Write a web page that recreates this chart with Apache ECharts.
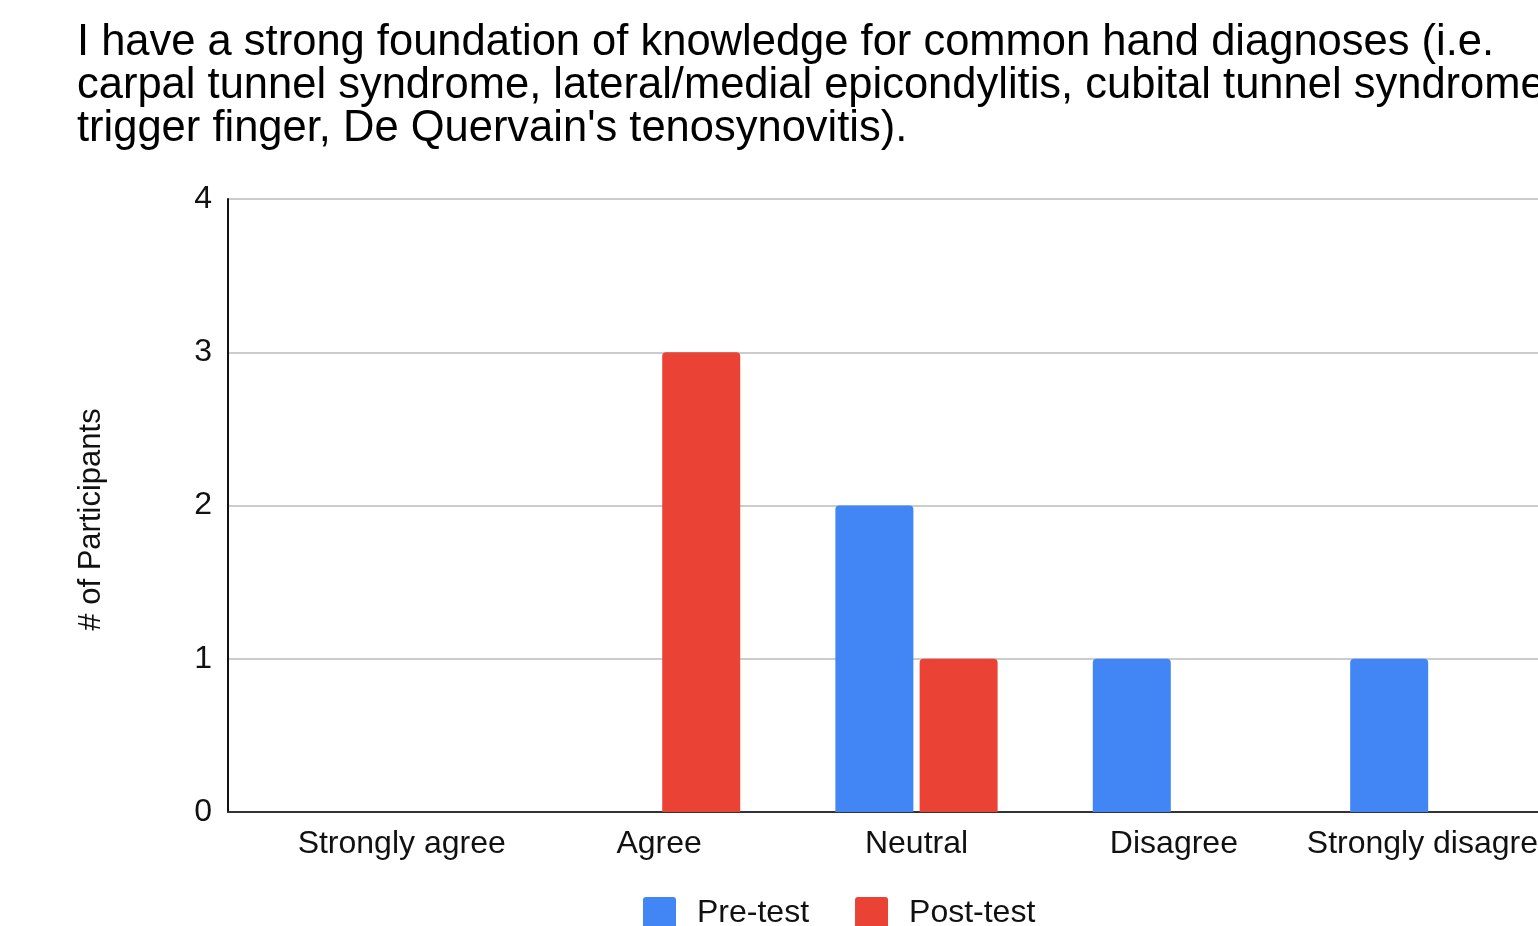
<!DOCTYPE html>
<html><head><meta charset="utf-8">
<script src="https://cdn.jsdelivr.net/npm/echarts@6/dist/echarts.min.js"></script>
<style>html,body{margin:0;padding:0;background:#fff}#c{width:1538px;height:926px}</style>
</head><body><div id="c"></div>
<script>
const titleText = "I have a strong foundation of knowledge for common hand diagnoses (i.e.\ncarpal tunnel syndrome, lateral/medial epicondylitis, cubital tunnel syndrome,\ntrigger finger, De Quervain's tenosynovitis).";
const categories = ["Strongly agree", "Agree", "Neutral", "Disagree", "Strongly disagree"];
const preTest = [0, 0, 2, 1, 1];
const postTest = [0, 3, 1, 0, 0];
const seriesNames = ["Pre-test", "Post-test"];
const yTicks = [0, 1, 2, 3, 4];

const font = "'Liberation Sans', Arial, sans-serif";
const chart = echarts.init(document.getElementById('c'));
chart.setOption({
  animation: false,
  title: {
    text: titleText, left: 72, top: 16,
    textStyle: { fontFamily: font, fontSize: 43.5, fontWeight: 'normal', color: '#000', lineHeight: 43 }
  },
  legend: {
    data: seriesNames, left: 638, top: 892,
    icon: 'path://M3,0 H30 Q33,0 33,3 V30 Q33,33 30,33 H3 Q0,33 0,30 V3 Q0,0 3,0 Z',
    itemWidth: 33, itemHeight: 33, itemGap: 46,
    textStyle: { fontFamily: font, fontSize: 32, color: '#111', padding: [0, 0, 0, 16] }
  },
  grid: [
    { left: 273, width: 1287, top: 199, bottom: 114, outerBoundsMode: 'none', containLabel: false },
    { left: 228, width: 1332, top: 199, bottom: 114, outerBoundsMode: 'none', containLabel: false }
  ],
  xAxis: [
    { type: 'category', data: categories, gridIndex: 0,
      axisLine: { lineStyle: { color: '#333', width: 2 } },
      axisTick: { show: false },
      axisLabel: { fontFamily: font, fontSize: 32, color: '#111', margin: 16, interval: 0 } },
    { type: 'value', gridIndex: 1, min: 0, max: 1, show: true,
      axisLine: { show: true, onZero: false, lineStyle: { color: '#333', width: 2 } },
      axisTick: { show: false }, axisLabel: { show: false }, splitLine: { show: false } }
  ],
  yAxis: [
    { type: 'value', gridIndex: 0, min: yTicks[0], max: yTicks[yTicks.length - 1], interval: 1, offset: 45,
      name: '# of Participants', nameLocation: 'middle', nameGap: 121, nameRotate: 90,
      nameTextStyle: { fontFamily: font, fontSize: 31, color: '#111', padding: [0, 28, 0, 0] },
      axisLine: { show: true, lineStyle: { color: '#111', width: 2 } },
      axisTick: { show: false },
      axisLabel: { fontFamily: font, fontSize: 32, color: '#111', margin: 16 },
      splitLine: { show: false } },
    { type: 'value', gridIndex: 1, min: yTicks[0], max: yTicks[yTicks.length - 1], interval: 1,
      axisLine: { show: false }, axisTick: { show: false }, axisLabel: { show: false },
      splitLine: { show: true, lineStyle: { color: '#cccccc', width: 2 } } }
  ],
  series: [
    { name: seriesNames[0], type: 'bar', data: preTest, xAxisIndex: 0, yAxisIndex: 0,
      barWidth: 78, barGap: '8%', itemStyle: { color: '#4285F4', borderRadius: [4, 4, 0, 0] } },
    { name: seriesNames[1], type: 'bar', data: postTest, xAxisIndex: 0, yAxisIndex: 0,
      barWidth: 78, barGap: '8%', itemStyle: { color: '#EA4335', borderRadius: [4, 4, 0, 0] } }
  ]
});
</script></body></html>
